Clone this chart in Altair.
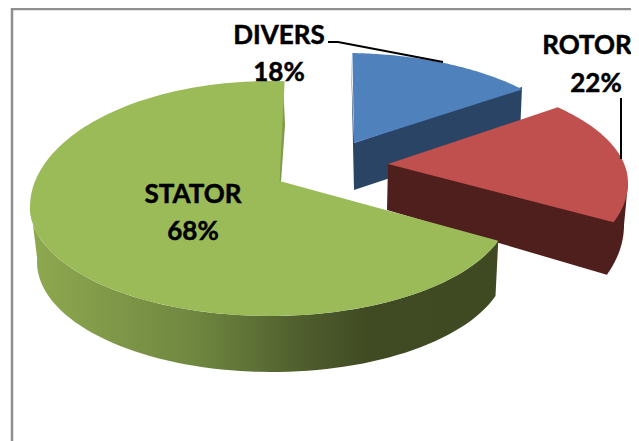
import math
import altair as alt
import pandas as pd

# Labels and values printed on the chart
names = ["DIVERS", "ROTOR", "STATOR"]
percents = [18, 22, 68]
# Slice spans, degrees clockwise from the top of each ellipse
arc_start = [2, 45, 108]
arc_end = [48, 110, 363.5]

W, H = 631, 441
FONT = "Lato"


def ell(cx, cy, a, bu, bd, t):
    r = math.radians(t)
    c = math.cos(r)
    return (cx + a * math.sin(r), cy - (bu if c > 0 else bd) * c)


def arc(params, t0, t1, n=70):
    return [ell(*params, t0 + (t1 - t0) * i / n) for i in range(n + 1)]


def poly(pts, fill):
    df = pd.DataFrame(pts, columns=["x", "y"])
    df["i"] = range(len(df))
    return alt.Chart(df).mark_line(fill=fill, strokeWidth=0, stroke="transparent", clip=False).encode(
        x=X, y=Y, order=alt.Order("i:Q")
    )


def stroke(pts, color, width):
    df = pd.DataFrame(pts, columns=["x", "y"])
    df["i"] = range(len(df))
    return alt.Chart(df).mark_line(color=color, strokeWidth=width).encode(x=X, y=Y, order=alt.Order("i:Q"))


X = alt.X("x:Q", scale=alt.Scale(domain=[8, W], nice=False, zero=False), axis=None)
Y = alt.Y("y:Q", scale=alt.Scale(domain=[H, 8], nice=False, zero=False), axis=None)

BLUE_TOP = (344, 163, 240, 110, 110)
RED_TOP = (388, 183, 240, 107, 115)
RED_BOT = (388, 225, 236, 133, 133)
GREEN_TOP = (270, 207, 240, 126, 109)
GREEN_BOT = (272, 262, 235, 110, 110)

green_wall_fill = alt.Gradient(
    gradient="linear", x1=0, x2=1, y1=0, y2=0,
    stops=[
        alt.GradientStop(color="#8fa950", offset=0),
        alt.GradientStop(color="#6f8740", offset=0.35),
        alt.GradientStop(color="#4f5e2d", offset=0.58),
        alt.GradientStop(color="#404b23", offset=0.72),
        alt.GradientStop(color="#3f4a23", offset=1),
    ],
)

blue_arc = arc(BLUE_TOP, arc_start[0], arc_end[0])
red_arc = arc(RED_TOP, arc_start[1], arc_end[1])
green_arc = arc(GREEN_TOP, arc_start[2], arc_end[2], 160)

layers = [
    # frame
    stroke([(12, H), (12, 9), (W, 9)], "#8f8f8f", 2.5),
    # blue
    poly([(354, 143), (522, 87), (520, 135), (354, 190), (351, 53)], "#2a4466"),
    poly(blue_arc + [(354, 143)], "#4f81bd"),
    # red
    poly([(388, 164), (628, 183)] + arc(RED_BOT, 90, 112) + [(387, 210)], "#4f1f1e"),
    poly(red_arc + [(388, 164)], "#c0504d"),
    # green
    poly(arc(GREEN_TOP, 108, 272) + arc(GREEN_BOT, 272, 108, 70)[::1], green_wall_fill),
    poly([(283, 81), (285, 125), (281, 182), (279, 181)], "#7f9a48"),
    poly(green_arc + [(279.5, 181)], "#9bbb59"),
    # leaders
    stroke([(328, 42), (338, 42), (443, 62)], "#000000", 2),
    stroke([(621, 98), (621, 159)], "#000000", 2),
]

lab = pd.DataFrame({
    "x": [279, 279, 587, 596, 193, 193],
    "y": [35.5, 72.5, 45.5, 83.5, 194.5, 231.5],
    "t": [names[0], f"{percents[0]}%", names[1], f"{percents[1]}%", names[2], f"{percents[2]}%"],
})
layers.append(
    alt.Chart(lab).mark_text(font=FONT, fontWeight="bold", fontSize=26, color="#000000", stroke="#000000",
                             strokeWidth=0.5, baseline="middle", align="center")
    .encode(x=X, y=Y, text="t:N")
)

chart = (
    alt.layer(*layers)
    .properties(width=W - 8, height=H - 8, padding=0, autosize="none", background="#ffffff")
    .configure_view(stroke=None)
)
chart.save("out.html", embed_options={"renderer": "svg", "actions": False})
